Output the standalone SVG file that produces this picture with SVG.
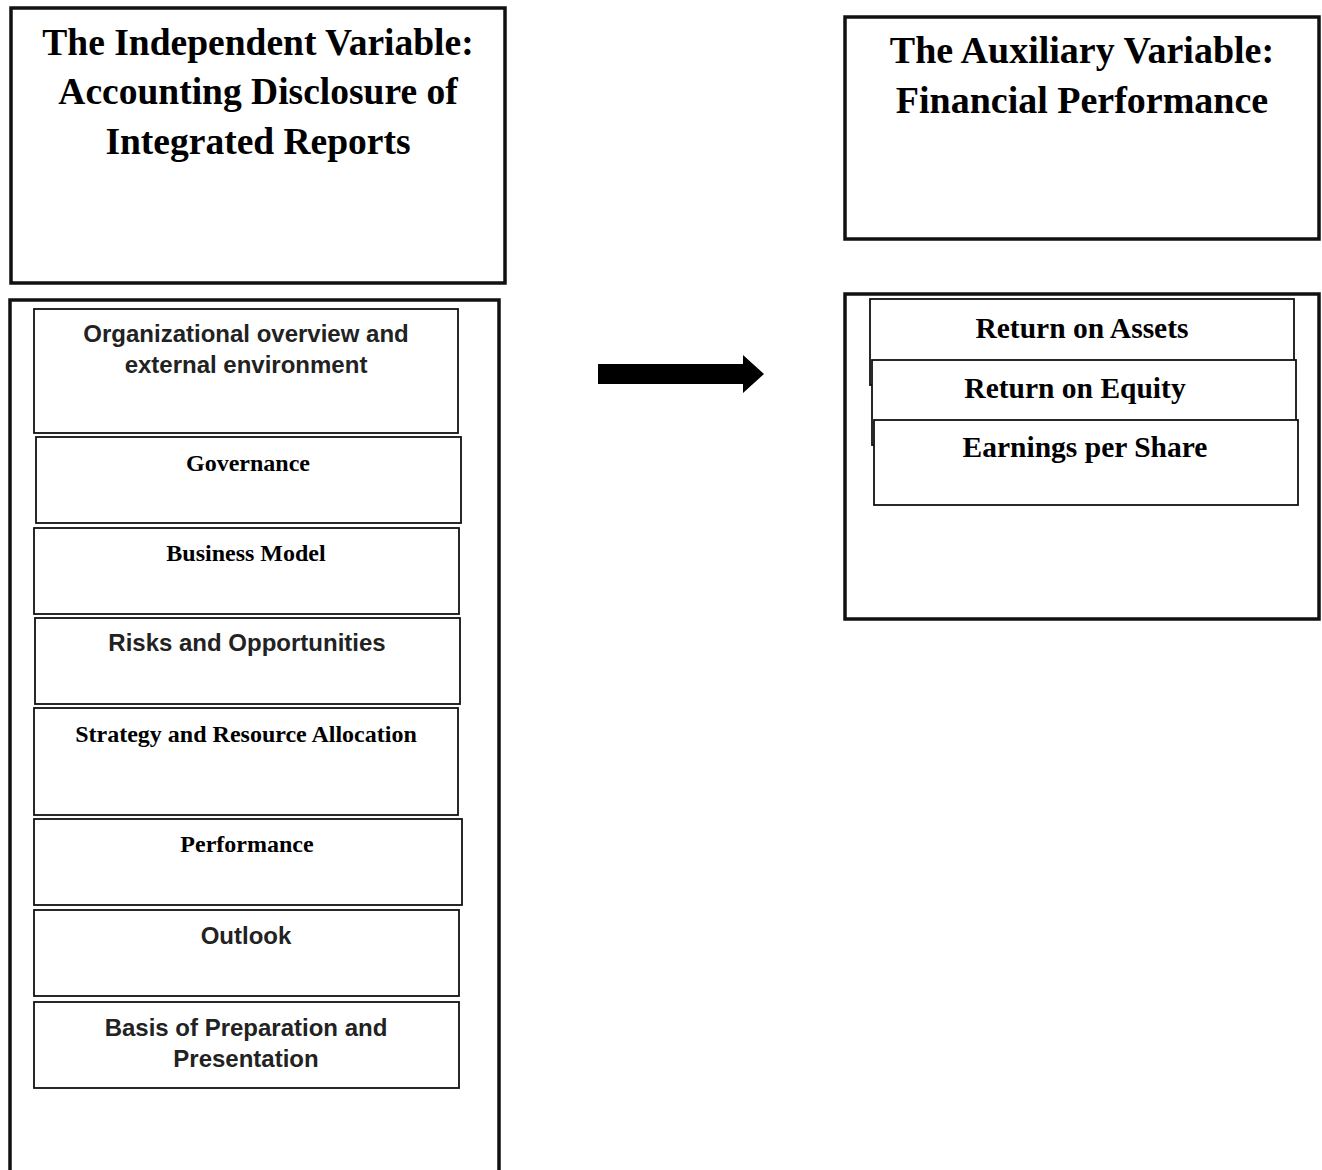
<svg xmlns="http://www.w3.org/2000/svg" width="1322" height="1170" viewBox="0 0 1322 1170">
<style>
.outer{fill:#fff;stroke:#111;stroke-width:3.5}
.inner{fill:#fff;stroke:#111;stroke-width:1.8}
.title{font-family:"Liberation Serif","Times New Roman",serif;font-weight:bold;font-size:37.5px;fill:#000;text-anchor:middle}
.ts{font-family:"Liberation Serif","Times New Roman",serif;font-weight:bold;font-size:24px;fill:#000;text-anchor:middle}
.tm{font-family:"Liberation Serif","Times New Roman",serif;font-weight:bold;font-size:29.5px;fill:#000;text-anchor:middle}
.sans{font-family:"Liberation Sans",Arial,sans-serif;font-weight:bold;font-size:24px;fill:#222;text-anchor:middle}
</style>
<rect width="1322" height="1170" fill="#fff"/>
<g id="independent-title">
<rect class="outer" x="11" y="8" width="494" height="275"/>
<text class="title" x="258" y="55">The Independent Variable:</text>
<text class="title" x="258" y="104">Accounting Disclosure of</text>
<text class="title" x="258" y="154">Integrated Reports</text>
</g>
<g id="independent-container">
<rect class="outer" x="10" y="300" width="489" height="890"/>
</g>
<g id="org-overview">
<rect class="inner" x="34" y="309" width="424" height="124"/>
<text class="sans" x="246" y="342">Organizational overview and</text>
<text class="sans" x="246" y="373">external environment</text>
</g>
<g id="governance">
<rect class="inner" x="36" y="437" width="425" height="86"/>
<text class="ts" x="248" y="471">Governance</text>
</g>
<g id="business-model">
<rect class="inner" x="34" y="528" width="425" height="86"/>
<text class="ts" x="246" y="561">Business Model</text>
</g>
<g id="risks">
<rect class="inner" x="35" y="618" width="425" height="86"/>
<text class="sans" x="247" y="651">Risks and Opportunities</text>
</g>
<g id="strategy">
<rect class="inner" x="34" y="708" width="424" height="107"/>
<text class="ts" x="246" y="742">Strategy and Resource Allocation</text>
</g>
<g id="performance">
<rect class="inner" x="34" y="819" width="428" height="86"/>
<text class="ts" x="247" y="852">Performance</text>
</g>
<g id="outlook">
<rect class="inner" x="34" y="910" width="425" height="86"/>
<text class="sans" x="246" y="944">Outlook</text>
</g>
<g id="basis">
<rect class="inner" x="34" y="1002" width="425" height="86"/>
<text class="sans" x="246" y="1036">Basis of Preparation and</text>
<text class="sans" x="246" y="1067">Presentation</text>
</g>
<g id="connectors">
<polygon points="598,364 743,364 743,355 764,374 743,393 743,384 598,384" fill="#000"/>
</g>
<g id="auxiliary-title">
<rect class="outer" x="845" y="17" width="474" height="222"/>
<text class="title" x="1082" y="63" style="font-size:38px">The Auxiliary Variable:</text>
<text class="title" x="1082" y="113" style="font-size:38px">Financial Performance</text>
</g>
<g id="auxiliary-container">
<rect class="outer" x="845" y="294" width="474" height="325"/>
</g>
<g id="roa">
<rect class="inner" x="870" y="299" width="424" height="86"/>
<text class="tm" x="1082" y="338">Return on Assets</text>
</g>
<g id="roe">
<rect class="inner" x="872" y="360" width="424" height="85"/>
<text class="tm" x="1075" y="398">Return on Equity</text>
</g>
<g id="eps">
<rect class="inner" x="874" y="420" width="424" height="85"/>
<text class="tm" x="1085" y="457">Earnings per Share</text>
</g>
</svg>
